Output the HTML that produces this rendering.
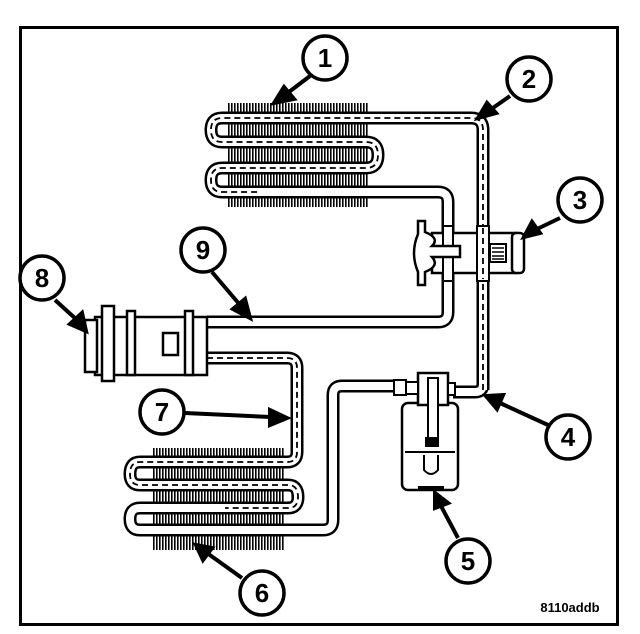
<!DOCTYPE html>
<html><head><style>
html,body{margin:0;padding:0;background:#fff;width:640px;height:634px;overflow:hidden}
svg{display:block}
text{font-family:"Liberation Sans",Arial,sans-serif;font-weight:bold;fill:#000}
</style></head><body>
<svg width="640" height="634" viewBox="0 0 640 634" xmlns="http://www.w3.org/2000/svg">
<defs>
<pattern id="fin" width="3" height="10" patternUnits="userSpaceOnUse">
<rect x="0" y="0" width="1.6" height="10" fill="#000"/>
</pattern>
<marker id="ah" markerWidth="8" markerHeight="8" refX="6" refY="4" orient="auto" markerUnits="userSpaceOnUse">
</marker>
</defs>
<rect x="20.5" y="27.5" width="597" height="597" fill="none" stroke="#000" stroke-width="3"/>

<!-- fins -->
<rect x="227" y="103" width="141" height="104" fill="url(#fin)"/>
<rect x="152" y="448" width="132" height="102" fill="url(#fin)"/>

<!-- tubes: outer black, inner white, dashed -->
<g fill="none" stroke-linejoin="round" stroke-linecap="butt">
<!-- evaporator + line 2 -->
<path id="t1" d="M483,390 L483,130 Q483,118 471,118 L222,118 Q211,118 211,130 Q211,142 222,142 L366,142 Q378,142 378,155 Q378,168 366,168 L222,168 Q211,168 211,180 Q211,192 222,192 L438,192 Q448,192 448,202 L448,312 Q448,322 438,322 L207,322"/>
<path id="t2" d="M453,392 L475,392 Q483,392 483,384"/>
<path id="t3" d="M207,358 L287,358 Q297,358 297,368 L297,452 Q297,462 287,462 L140,462 Q130,462 130,474 Q130,485 140,485 L288,485 Q298,485 298,497 Q298,508 288,508 L140,508 Q130,508 130,519 Q130,530 140,530 L323,530 Q333,530 333,520 L333,395 Q333,386 342,386 L400,386"/>
</g>
<g fill="none" stroke="#000" stroke-width="13" stroke-linejoin="round">
<use href="#t1"/><use href="#t2"/><use href="#t3"/>
</g>
<g fill="none" stroke="#fff" stroke-width="8" stroke-linejoin="round">
<use href="#t1"/><use href="#t2"/><use href="#t3"/>
</g>
<g fill="none" stroke="#000" stroke-width="1.8" stroke-dasharray="6,4">
<path d="M483,390 L483,130 Q483,118 471,118 L222,118 Q211,118 211,130 Q211,142 222,142 L366,142 Q378,142 378,155 Q378,168 366,168 L222,168 Q211,168 211,180 Q211,192 222,192 L260,192"/>
<path d="M207,358 L287,358 Q297,358 297,368 L297,452 Q297,462 287,462 L140,462 Q130,462 130,474 Q130,485 140,485 L288,485 Q298,485 298,497 Q298,508 288,508 L225,508"/>
</g>

<!-- expansion valve -->
<rect x="432" y="233" width="84" height="40" fill="#fff" stroke="#000" stroke-width="2.5"/>
<rect x="443" y="226" width="10" height="55" fill="#fff" stroke="#000" stroke-width="2"/>
<rect x="477" y="226" width="12" height="55" fill="#fff" stroke="#000" stroke-width="2"/>
<line x1="483" y1="228" x2="483" y2="279" stroke="#000" stroke-width="1.8" stroke-dasharray="6,4"/>
<rect x="512" y="233" width="12" height="40" rx="4" fill="#fff" stroke="#000" stroke-width="2.5"/>
<rect x="490" y="244" width="16" height="18" fill="#fff" stroke="#000" stroke-width="2"/>
<path d="M492,248h12M492,252h12M492,256h12M492,259h12" stroke="#000" stroke-width="1.5"/>
<path d="M418,221 L425,221 L425,232 Q440,238 432,246 L460,246 L460,257 L432,257 Q440,266 425,272 L425,285 L418,285 L418,272 Q410,253 418,234 Z" fill="#fff" stroke="#000" stroke-width="2.5"/>

<!-- compressor -->
<rect x="95" y="317" width="112" height="58" fill="#fff" stroke="#000" stroke-width="2.5"/>
<rect x="85" y="320" width="12" height="52" fill="#fff" stroke="#000" stroke-width="2.5"/>
<rect x="102" y="306" width="12" height="75" fill="#fff" stroke="#000" stroke-width="2.5"/>
<rect x="127" y="311" width="8" height="64" fill="#fff" stroke="#000" stroke-width="2.5"/>
<rect x="185" y="311" width="8" height="64" fill="#fff" stroke="#000" stroke-width="2.5"/>
<rect x="163" y="333" width="15" height="22" fill="#fff" stroke="#000" stroke-width="2.5"/>

<!-- receiver -->
<rect x="402" y="403" width="56" height="87" rx="6" fill="#fff" stroke="#000" stroke-width="2.5"/>
<line x1="405" y1="452" x2="455" y2="452" stroke="#000" stroke-width="2"/>
<rect x="418" y="373" width="30" height="32" fill="#fff" stroke="#000" stroke-width="2.5"/>
<rect x="394" y="380" width="12" height="15" fill="#fff" stroke="#000" stroke-width="2"/>
<rect x="406" y="382" width="12" height="12" fill="#fff" stroke="#000" stroke-width="2"/>
<rect x="448" y="383" width="7" height="12" fill="#fff" stroke="#000" stroke-width="2"/>
<rect x="428" y="378" width="10" height="62" fill="#fff" stroke="#000" stroke-width="2"/>
<rect x="425" y="437" width="14" height="10" fill="#000"/>
<path d="M424,455 L424,470 Q431,478 438,470 L438,455" fill="none" stroke="#000" stroke-width="2"/>
<rect x="418" y="486" width="26" height="4" fill="#000"/>

<!-- arrows -->
<g stroke="#000" stroke-width="4" fill="#000">
<line x1="310" y1="76" x2="285" y2="95"/><polygon points="274,103 284,87 294,99"/>
<line x1="510" y1="96" x2="490" y2="110"/><polygon points="478,118 487,103 496,113"/>
<line x1="560" y1="218" x2="535" y2="230"/><polygon points="524,237 532,222 540,233"/>
<line x1="548" y1="425" x2="500" y2="403"/><polygon points="486,396 503,395 497,409"/>
<line x1="458" y1="538" x2="441" y2="506"/><polygon points="435,493 448,503 435,508"/>
<line x1="242" y1="578" x2="207" y2="553"/><polygon points="196,545 212,548 203,560"/>
<line x1="185" y1="413" x2="270" y2="417"/><polygon points="287,418 270,410 270,425"/>
<line x1="55" y1="300" x2="77" y2="320"/><polygon points="86,331 70,324 82,313"/>
<line x1="212" y1="272" x2="240" y2="305"/><polygon points="250,318 233,309 245,299"/>
</g>

<!-- callouts -->
<g fill="#fff" stroke="#000" stroke-width="3.5">
<circle cx="325" cy="58" r="22"/>
<circle cx="529" cy="79" r="22"/>
<circle cx="580" cy="200" r="22"/>
<circle cx="568" cy="437" r="22"/>
<circle cx="468" cy="561" r="22"/>
<circle cx="262" cy="593" r="22"/>
<circle cx="162" cy="412" r="22"/>
<circle cx="42" cy="278" r="22"/>
<circle cx="203" cy="250" r="22"/>
</g>
<g font-size="26" text-anchor="middle">
<text x="325" y="67">1</text>
<text x="529" y="88">2</text>
<text x="580" y="209">3</text>
<text x="568" y="446">4</text>
<text x="468" y="570">5</text>
<text x="262" y="602">6</text>
<text x="162" y="421">7</text>
<text x="42" y="287">8</text>
<text x="203" y="259">9</text>
</g>
<text x="570" y="612" font-size="13" text-anchor="middle">8110addb</text>
</svg>
</body></html>
